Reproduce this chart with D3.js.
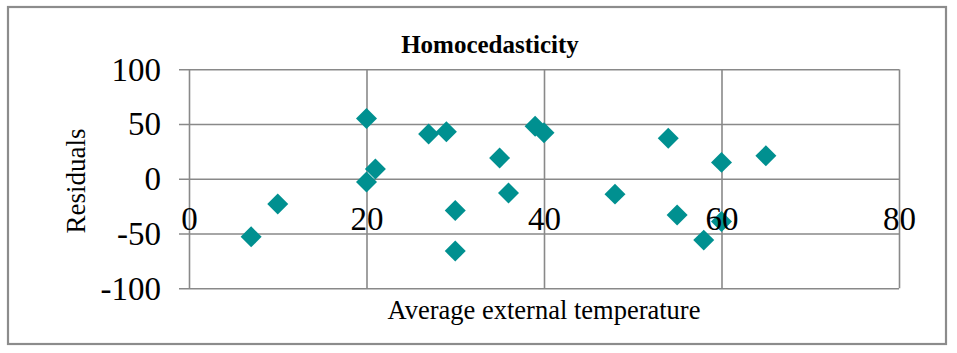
<!DOCTYPE html>
<html>
<head>
<meta charset="utf-8">
<script src="https://cdn.jsdelivr.net/npm/d3@7"></script>
<style>
  body { margin: 0; background: #fff; }
  text { font-family: "Liberation Serif", "Times New Roman", serif; fill: #000; }
</style>
</head>
<body>
<div id="chart"></div>
<script>
// data
var temps = [7, 10, 20, 20, 21, 27, 29, 30, 30, 35, 36, 39, 40, 48, 54, 55, 58, 60, 60, 65];
var residuals = [-53, -23, 55, -3, 9, 41, 43, -29, -66, 19, -13, 48, 42, -14, 37, -33, -56, 15, -39, 21];
var xTicks = [0, 20, 40, 60, 80];
var yTicks = [-100, -50, 0, 50, 100];

var W = 957, H = 353;
var GRID = "#898989", TEAL = "#009090";

var svg = d3.select("#chart").append("svg")
  .attr("width", W)
  .attr("height", H);

// chart frame
svg.append("rect")
  .attr("x", 8).attr("y", 7)
  .attr("width", 938).attr("height", 337)
  .attr("fill", "#fff")
  .attr("stroke", "#8c8c8c")
  .attr("stroke-width", 2.2);

var x = d3.scaleLinear().domain([0, 80]).range([189, 899]);
var y = d3.scaleLinear().domain([-100, 100]).range([288.3, 69.3]);

// plain hyphen minus like the original
var fmt = function(d) { return String(d); };

// horizontal gridlines + y labels
var yAxis = svg.append("g")
  .attr("transform", "translate(179,0)")
  .call(d3.axisLeft(y).tickValues(yTicks).tickSize(-(x(80) - 179)).tickPadding(18).tickFormat(fmt));
yAxis.select(".domain").remove();
yAxis.selectAll("line").attr("stroke", GRID).attr("stroke-width", 1.6);
yAxis.selectAll("text")
  .attr("dy", "0.33em")
  .style("font-size", "33px")
  .style("font-family", "'Liberation Serif', 'Times New Roman', serif");

// vertical gridlines
var xGrid = svg.append("g")
  .attr("transform", "translate(0," + y(-100) + ")")
  .call(d3.axisBottom(x).tickValues(xTicks).tickSize(-(y(-100) - y(100))).tickFormat(""));
xGrid.select(".domain").remove();
xGrid.selectAll("line").attr("stroke", GRID).attr("stroke-width", 1.6);

// markers
svg.append("g").selectAll("path")
  .data(temps)
  .enter().append("path")
  .attr("d", d3.symbol().type(d3.symbolSquare).size(220))
  .attr("transform", function(d, i) {
    return "translate(" + x(d) + "," + y(residuals[i]) + ") rotate(45)";
  })
  .attr("fill", TEAL);

// x labels sit under the zero line
var xAxis = svg.append("g")
  .attr("transform", "translate(0," + y(0) + ")")
  .call(d3.axisBottom(x).tickValues(xTicks).tickSize(0).tickPadding(28).tickFormat(fmt));
xAxis.select(".domain").remove();
xAxis.selectAll("text")
  .style("font-size", "33px")
  .style("font-family", "'Liberation Serif', 'Times New Roman', serif");

// titles
svg.append("text")
  .attr("x", 490).attr("y", 53)
  .attr("text-anchor", "middle")
  .style("font-size", "25px")
  .style("font-weight", "bold")
  .text("Homocedasticity");

svg.append("text")
  .attr("x", 544).attr("y", 319)
  .attr("text-anchor", "middle")
  .style("font-size", "26.5px")
  .text("Average external temperature");

svg.append("text")
  .attr("transform", "translate(85,181) rotate(-90)")
  .attr("text-anchor", "middle")
  .style("font-size", "27px")
  .text("Residuals");
</script>
</body>
</html>
